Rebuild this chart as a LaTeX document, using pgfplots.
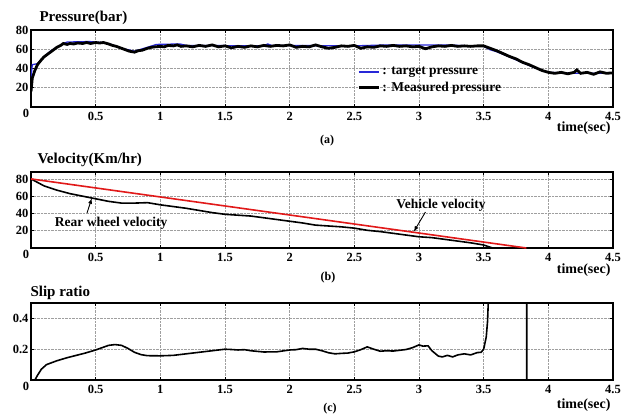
\documentclass[border=0pt]{standalone}
\usepackage{fontspec}
\setmainfont{Liberation Serif}
\usepackage{pgfplots}
\pgfplotsset{compat=1.18}

\definecolor{tgtblue}{RGB}{40,40,215}
\definecolor{vehred}{RGB}{225,25,25}

\pgfplotsset{
  panel/.style={
    scale only axis, width=582pt,
    xmin=0, xmax=4.5,
    xtick={0,0.5,1,1.5,2,2.5,3,3.5,4,4.5},
    xticklabels={,0.5,1,1.5,2,2.5,3,3.5,4,4.5},
    grid=major,
    major grid style={densely dotted, gray!75, line width=0.6pt},
    axis line style={line width=1.6pt},
    tick align=inside, tick style={black, line width=0.6pt}, major tick length=3pt,
    ticklabel style={font=\fontsize{12.5}{13}\selectfont\bfseries},
    /pgf/number format/assume math mode=true,
    xticklabel style={yshift=-1.5pt},
    yticklabel style={xshift=1pt},
    clip mode=individual,
  }
}

\begin{document}
\begin{tikzpicture}

% (a) pressure
\begin{axis}[panel, at={(31pt,-107pt)}, anchor=south west, height=77pt,
    ymin=0, ymax=80, ytick={20,40,60,80},
    legend style={at={(rel axis cs:0.56,0.35)}, anchor=west, draw=none, fill=none,
      font=\fontsize{13.5}{15}\selectfont\bfseries, inner sep=0pt, row sep=1.5pt,
      /tikz/every even column/.append style={column sep=0pt}},
    legend cell align=left,
]
\addplot[tgtblue, line width=1.3pt,
  legend image code/.code={\draw[tgtblue, line width=2.2pt] (0pt,0pt) -- (20pt,0pt);}] coordinates {
 (0,30) (0.01,44) (0.05,45) (0.1,52) (0.15,58) (0.2,62) (0.25,66) (0.28,67.5)
 (0.45,68) (0.55,67) (0.62,65) (0.7,61) (0.8,58) (0.9,62) (0.97,65) (1.15,65.5)
 (1.2,64) (1.8,63.5) (1.83,65.5) (1.86,64) (2.5,63.5) (2.75,64.5) (3.2,64.5)
 (3.5,63) (3.55,59.5) (3.6,57.5) (3.7,52) (3.8,46) (3.9,40.5) (4.0,36) (4.2,35) (4.5,35)
};
\addlegendentry{: target pressure}
\addplot[black, line width=2.8pt,
  legend image code/.code={\draw[black, line width=3.2pt] (0pt,0pt) -- (20pt,0pt);}] coordinates {
 (0,16) (0.01,30) (0.03,38) (0.05,44) (0.08,49) (0.1,52) (0.13,55) (0.15,57)
 (0.18,60) (0.2,62) (0.23,64) (0.25,66) (0.28,65) (0.3,66) (0.33,65.5) (0.36,66.5)
 (0.4,66) (0.43,67) (0.46,66) (0.5,67) (0.53,66.5) (0.56,67) (0.6,65.5) (0.63,64)
 (0.66,63) (0.7,61) (0.73,59.5) (0.76,58) (0.8,57) (0.83,58.5) (0.86,59) (0.9,61)
 (0.93,62) (0.96,62.5) (1.0,63) (1.03,62.5) (1.06,64) (1.1,63.5) (1.13,64.5) (1.16,63)
 (1.2,63.5) (1.25,62.5) (1.3,64) (1.35,63) (1.4,64.5) (1.45,62.5) (1.5,63.5) (1.55,61.5)
 (1.6,63) (1.65,62) (1.7,63.5) (1.75,62.5) (1.8,64) (1.85,63) (1.9,64) (1.95,63.5)
 (2.0,64.5) (2.05,62) (2.1,63) (2.15,62.5) (2.2,64.5) (2.25,62.5) (2.3,61) (2.35,62)
 (2.4,63.5) (2.45,63) (2.5,64) (2.55,61) (2.6,62.5) (2.65,62) (2.7,63.5) (2.75,63)
 (2.8,64) (2.85,63) (2.9,63.5) (2.95,62.5) (3.0,63) (3.05,60.5) (3.1,62.5) (3.15,63.5)
 (3.2,63) (3.25,64) (3.3,63) (3.35,63.5) (3.4,63) (3.45,63.5) (3.5,63.5) (3.55,61)
 (3.6,58.5) (3.65,55.5) (3.7,52.5) (3.75,50) (3.8,46.5) (3.85,44) (3.9,41) (3.95,38)
 (4.0,36) (4.05,35) (4.1,36) (4.15,34.5) (4.2,36) (4.22,38.5) (4.25,35) (4.3,36)
 (4.35,34) (4.4,36.5) (4.45,35) (4.5,35.5)
};
\addlegendentry{: Measured pressure}
\node[font=\fontsize{12.5}{13}\selectfont\bfseries] at (rel axis cs:0,0) [xshift=-5pt,yshift=-6pt] {0};
\end{axis}

% (b) velocity
\begin{axis}[panel, at={(31pt,-248pt)}, anchor=south west, height=76pt,
    ymin=0, ymax=88, ytick={20,40,60,80}]
\addplot[black, line width=1.6pt] coordinates {
 (0,80) (0.05,76) (0.1,72) (0.15,69.5) (0.2,67) (0.3,63) (0.4,60) (0.5,57)
 (0.6,54) (0.7,52) (0.8,52) (0.9,52.5) (1.0,50) (1.1,48) (1.2,46) (1.3,43.5)
 (1.4,41) (1.5,39) (1.6,38) (1.7,37) (1.8,35) (1.9,33) (2.0,31) (2.1,29)
 (2.2,26.5) (2.3,25.5) (2.4,24.5) (2.5,23) (2.6,20.5) (2.7,19) (2.8,17) (2.9,15)
 (3.0,13) (3.1,12) (3.2,10) (3.3,8) (3.4,6) (3.5,3.5) (3.57,0)
};
\addplot[vehred, line width=1.6pt] coordinates {(0,80) (3.83,0)};
\draw[-latex, line width=0.9pt] (axis cs:0.433,40.5) -- (axis cs:0.47,57.5);
\draw[-latex, line width=0.9pt] (axis cs:3.05,41.7) -- (axis cs:2.96,19);
\node[font=\fontsize{13.5}{15}\selectfont\bfseries] at (axis cs:0.62,29) {Rear wheel velocity};
\node[font=\fontsize{13.5}{15}\selectfont\bfseries] at (axis cs:3.17,49.8) {Vehicle velocity};
\node[font=\fontsize{12.5}{13}\selectfont\bfseries] at (rel axis cs:0,0) [xshift=-5pt,yshift=-6pt] {0};
\end{axis}

% (c) slip ratio
\begin{axis}[panel, at={(31pt,-380pt)}, anchor=south west, height=77pt,
    ymin=0, ymax=0.5, ytick={0.2,0.4}, yticklabels={0.2,0.4}]
\addplot[black, line width=1.6pt] coordinates {
 (0,0) (0.03,0) (0.05,0.03) (0.08,0.07) (0.12,0.1) (0.2,0.125) (0.28,0.145)
 (0.35,0.16) (0.42,0.175) (0.5,0.195) (0.55,0.21) (0.6,0.225) (0.65,0.23) (0.7,0.225)
 (0.75,0.205) (0.8,0.18) (0.85,0.165) (0.9,0.158) (1.0,0.157) (1.1,0.16) (1.2,0.17)
 (1.3,0.18) (1.4,0.19) (1.5,0.2) (1.55,0.198) (1.6,0.195) (1.65,0.197) (1.7,0.19)
 (1.8,0.182) (1.9,0.183) (2.0,0.195) (2.05,0.197) (2.1,0.205) (2.15,0.2) (2.2,0.2)
 (2.25,0.19) (2.3,0.177) (2.35,0.17) (2.4,0.173) (2.45,0.175) (2.5,0.183) (2.55,0.197)
 (2.6,0.215) (2.65,0.2) (2.7,0.187) (2.75,0.19) (2.8,0.188) (2.85,0.193) (2.9,0.198)
 (2.95,0.21) (3.0,0.228) (3.03,0.22) (3.07,0.222) (3.1,0.19) (3.15,0.155) (3.18,0.15)
 (3.22,0.16) (3.26,0.15) (3.3,0.163) (3.35,0.17) (3.4,0.163) (3.45,0.178) (3.48,0.18)
 (3.5,0.2) (3.52,0.28) (3.53,0.38) (3.54,0.6) (3.55,1) (3.833,1) (3.833,0) (4.5,0)
};
\node[font=\fontsize{12.5}{13}\selectfont\bfseries] at (rel axis cs:0,0) [xshift=-5pt,yshift=-6pt] {0};
\end{axis}

% titles and labels
\node[anchor=west, font=\fontsize{15}{16}\selectfont\bfseries] at (36pt,-18pt) {Pressure(bar)};
\node[anchor=west, font=\fontsize{15}{16}\selectfont\bfseries] at (34pt,-160pt) {Velocity(Km/hr)};
\node[anchor=west, font=\fontsize{15}{16}\selectfont\bfseries] at (27pt,-293pt) {Slip ratio};
\node[anchor=east, font=\fontsize{14}{15}\selectfont\bfseries] at (614pt,-128.5pt) {time(sec)};
\node[anchor=east, font=\fontsize{14}{15}\selectfont\bfseries] at (614pt,-270pt) {time(sec)};
\node[anchor=east, font=\fontsize{14}{15}\selectfont\bfseries] at (614pt,-405pt) {time(sec)};
\node[font=\fontsize{12}{13}\selectfont\bfseries] at (327pt,-141pt) {(a)};
\node[font=\fontsize{12}{13}\selectfont\bfseries] at (328pt,-278pt) {(b)};
\node[font=\fontsize{12}{13}\selectfont\bfseries] at (330pt,-409pt) {(c)};

\pgfresetboundingbox
\path[use as bounding box] (0pt,0pt) rectangle (624pt,-416pt);
\end{tikzpicture}
\end{document}
